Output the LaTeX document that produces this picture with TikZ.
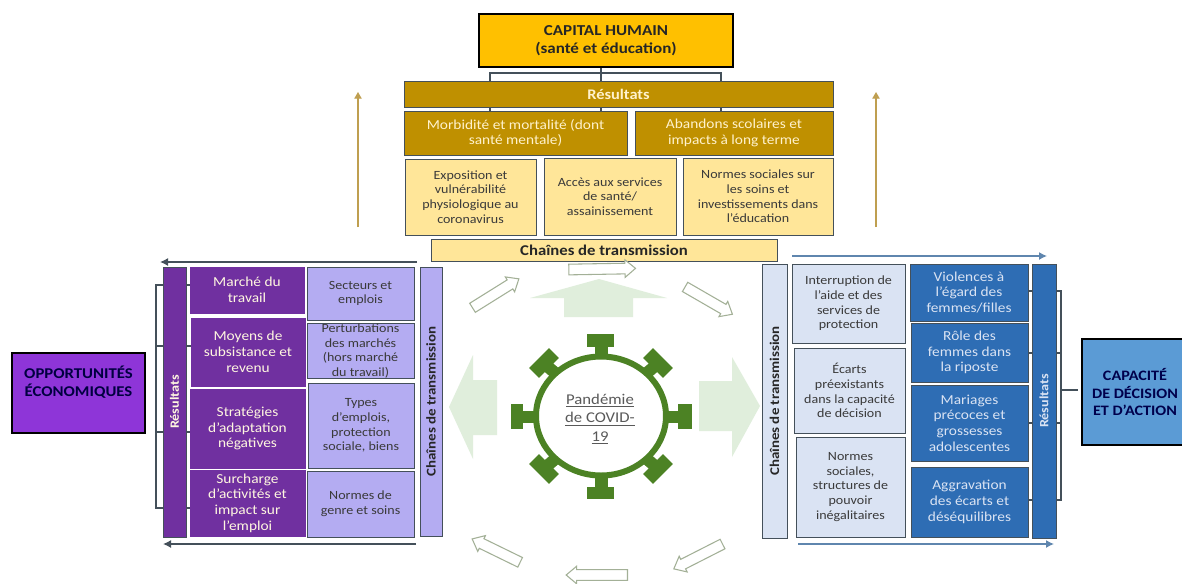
\documentclass[tikz,border=0pt]{standalone}
\usepackage{fontspec}
\setmainfont[FakeStretch=1.12]{Carlito}
\usetikzlibrary{arrows.meta,shapes.arrows}
\definecolor{capfill}{HTML}{FFC000}
\definecolor{gold}{HTML}{BF9000}
\definecolor{goldtxt}{HTML}{FFF2CC}
\definecolor{paleyellow}{HTML}{FFE699}
\definecolor{purpledark}{HTML}{7030A0}
\definecolor{lavender}{HTML}{B4ACF2}
\definecolor{oppfill}{HTML}{8E35D8}
\definecolor{bluedark}{HTML}{2E6DB4}
\definecolor{paleblue}{HTML}{DAE3F3}
\definecolor{capafill}{HTML}{5B9BD5}
\definecolor{virus}{HTML}{4C8224}
\definecolor{bigarrow}{HTML}{E0EEDC}
\definecolor{smallarrow}{HTML}{A3B097}
\definecolor{linegrey}{HTML}{44505A}
\definecolor{arrowgold}{HTML}{BF9F50}
\definecolor{arrowblue}{HTML}{5F86AE}
\definecolor{txtgrey}{HTML}{3A3A3A}
\tikzset{
  bxbase/.style={draw=#1,line width=0.65pt,inner sep=0pt,outer sep=0pt,align=center,anchor=center},
  bxbase/.default=linegrey,
  txtsmall/.style={font=\fontsize{9.4}{11}\selectfont,text=txtgrey},
  yellowbox/.style={bxbase,fill=paleyellow,txtsmall},
  goldbox/.style={bxbase,fill=gold,font=\fontsize{10.3}{11.8}\selectfont,text=goldtxt},
  purplebox/.style={bxbase=purpledark,line width=0.3pt,fill=purpledark,font=\fontsize{10.3}{11.8}\selectfont,text=goldtxt!60!white},
  lavbox/.style={bxbase,fill=lavender,txtsmall},
  bluebox/.style={bxbase,fill=bluedark,font=\fontsize{10.3}{11.8}\selectfont,text=paleblue},
  paleblbox/.style={bxbase,fill=paleblue,txtsmall},
  headbox/.style={bxbase=black,line width=2.2pt,font=\bfseries\fontsize{11.4}{14}\selectfont},
  vertbar/.style={bxbase,font=\bfseries\fontsize{10}{12}\selectfont},
  resvert/.style={bxbase,font=\bfseries\fontsize{9.5}{12}\selectfont},
  conn/.style={draw=linegrey,line width=0.8pt},
  smallblock/.style={single arrow,draw=smallarrow,fill=white,line width=0.8pt,inner sep=3.6pt,outer sep=0pt,
    single arrow head extend=2.6pt,single arrow tip angle=80},
  bigblock/.style={fill=bigarrow,draw=none},
  spike/.style={fill=virus,draw=none},
}
\newcommand{\bxn}[7][]{\node[#1,minimum width={(#5-#3)*0.75pt},minimum height={(#6-#4)*0.75pt}] (#2) at ({(#5+#3)/2},{(#6+#4)/2}) {#7};}
\newcommand{\vbar}[7][]{\node[#1,rotate=90,minimum width={(#6-#4)*0.75pt},minimum height={(#5-#3)*0.75pt}] (#2) at ({(#5+#3)/2},{(#6+#4)/2}) {#7};}
\begin{document}
\begin{tikzpicture}[x=0.75pt,y=-0.75pt]
\clip (0,0) rectangle (1182,583);
\fill[white] (0,0) rectangle (1182,583);

% ---- coordinates for connectors
\coordinate (capfoot) at (601,67);
\coordinate (tbar) at (601,73);
\coordinate (tA) at (490,81); \coordinate (tB) at (601,81); \coordinate (tC) at (721,81);
\coordinate (tA2) at (490,107); \coordinate (tB2) at (601,107); \coordinate (tC2) at (721,107);
\coordinate (tA3) at (490,111); \coordinate (tB3) at (601,111); \coordinate (tC3) at (721,111);
\coordinate (lspine) at (156,392);
\coordinate (l1) at (163,285); \coordinate (l2) at (163,346); \coordinate (l3) at (163,432); \coordinate (l4) at (163,508);
\coordinate (l1b) at (186,285); \coordinate (l2b) at (186,346); \coordinate (l3b) at (186,432); \coordinate (l4b) at (186,508);
\coordinate (l1c) at (191,285); \coordinate (l2c) at (192,346); \coordinate (l3c) at (191,432); \coordinate (l4c) at (191,508);
\coordinate (rspine) at (1061,390);
\coordinate (r1) at (1032,291); \coordinate (r2) at (1032,353); \coordinate (r3) at (1032,423); \coordinate (r4) at (1032,500);
\coordinate (r1b) at (1027,291); \coordinate (r2b) at (1027,353); \coordinate (r3b) at (1027,423); \coordinate (r4b) at (1027,500);
\coordinate (r1c) at (1056,291); \coordinate (r2c) at (1056,353); \coordinate (r3c) at (1056,423); \coordinate (r4c) at (1056,500);
\coordinate (upLa) at (358,227); \coordinate (upLb) at (358,92);
\coordinate (upRa) at (876,227); \coordinate (upRb) at (876,92);
\coordinate (ltopa) at (417,262); \coordinate (ltopb) at (160,262);
\coordinate (lbota) at (416,544); \coordinate (lbotb) at (163,544);
\coordinate (rtopa) at (792,256); \coordinate (rtopb) at (1047,256);
\coordinate (rbota) at (798,544); \coordinate (rbotb) at (1054,544);

% ---- connectors
\draw[conn] (capfoot) -- (tB);
\draw[conn] (tA) |- (tbar) -| (tC);
\draw[conn] (tA2) -- (tA3); \draw[conn] (tB2) -- (tB3); \draw[conn] (tC2) -- (tC3);
\draw[conn] (l1) -| (lspine); \draw[conn] (l2) -| (lspine); \draw[conn] (l3) -| (lspine); \draw[conn] (l4) -| (lspine);
\draw[conn] (l1b) -- (l1c); \draw[conn] (l2b) -- (l2c); \draw[conn] (l3b) -- (l3c); \draw[conn] (l4b) -- (l4c);
\draw[conn] (r1c) -| (rspine); \draw[conn] (r2c) -| (rspine); \draw[conn] (r3c) -| (rspine); \draw[conn] (r4c) -| (rspine);
\draw[conn] (r1) -- (r1b); \draw[conn] (r2) -- (r2b); \draw[conn] (r3) -- (r3b); \draw[conn] (r4) -- (r4b);
\draw[arrowgold,line width=0.9pt,-{Triangle[length=5pt,width=5.5pt]}] (upLa) -- (upLb);
\draw[arrowgold,line width=0.9pt,-{Triangle[length=5pt,width=5.5pt]}] (upRa) -- (upRb);
\draw[linegrey,line width=1pt,-{Latex[length=6pt,width=6pt]}] (ltopa) -- (ltopb);
\draw[linegrey,line width=1pt,-{Latex[length=6pt,width=6pt]}] (lbota) -- (lbotb);
\draw[arrowblue,line width=1pt,-{Latex[length=6pt,width=6pt]}] (rtopa) -- (rtopb);
\draw[arrowblue,line width=1pt,-{Latex[length=6pt,width=6pt]}] (rbota) -- (rbotb);

% ---- top block
\bxn[headbox,fill=capfill,text=black!85]{cap}{479}{14}{733}{67}{CAPITAL HUMAIN\\(santé et éducation)}
\bxn[goldbox,font=\bfseries\fontsize{11}{12}\selectfont]{resT}{404}{81}{833}{107}{Résultats}
\bxn[goldbox]{morb}{404}{111}{627}{155}{Morbidité et mortalité (dont\\santé mentale)}
\bxn[goldbox]{aban}{635}{111}{833}{155}{Abandons scolaires et\\impacts à long terme}
\bxn[yellowbox]{expo}{405}{159}{536}{235}{Exposition et\\vulnérabilité\\physiologique au\\coronavirus}
\bxn[yellowbox]{acces}{544}{158}{676}{235}{Accès aux services\\de santé/\\assainissement}
\bxn[yellowbox]{normT}{683}{158}{833}{235}{Normes sociales sur\\les soins et\\investissements dans\\l'éducation}
\bxn[yellowbox,font=\bfseries\fontsize{11.2}{12}\selectfont,text=black!85]{chT}{431}{239}{777}{261}{Chaînes de transmission}

% ---- left block
\bxn[headbox,fill=oppfill,text=black!75!blue,font=\bfseries\fontsize{11.2}{14}\selectfont]{opp}{12}{353}{145}{433}{OPPORTUNITÉS\\ÉCONOMIQUES\\[3.5pt]}
\vbar[resvert,fill=purpledark,text=goldtxt!60!white]{resL}{163}{267}{186}{537}{Résultats}
\bxn[purplebox]{marche}{190}{267}{304}{313}{Marché du\\travail}
\bxn[purplebox]{moyens}{191}{318}{305}{386}{Moyens de\\subsistance et\\revenu}
\bxn[purplebox]{strat}{190}{389}{305}{468}{Stratégies\\d'adaptation\\négatives}
\bxn[purplebox]{surch}{190}{470}{305}{536}{Surcharge\\d'activités et\\impact sur\\l'emploi}
\bxn[lavbox]{sect}{307}{267}{414}{320}{Secteurs et\\emplois}
\bxn[lavbox]{pert}{307}{324}{414}{378}{Perturbations\\des marchés\\(hors marché\\du travail)}
\bxn[lavbox]{types}{308}{383}{414}{468}{Types\\d'emplois,\\protection\\sociale, biens}
\bxn[lavbox]{normL}{307}{471}{414}{537}{Normes de\\genre et soins}
\vbar[vertbar,fill=lavender,text=black!85]{chL}{420}{267}{442}{536}{Chaînes de transmission}

% ---- right block
\vbar[vertbar,fill=paleblue,text=black!85]{chR}{762}{264}{787}{538}{Chaînes de transmission}
\bxn[paleblbox]{inter}{792}{264}{905}{343}{Interruption de\\l'aide et des\\services de\\protection}
\bxn[paleblbox]{ecarts}{794}{348}{905}{433}{Écarts\\préexistants\\dans la capacité\\de décision}
\bxn[paleblbox]{normR}{796}{437}{905}{537}{Normes\\sociales,\\structures de\\pouvoir\\inégalitaires}
\bxn[bluebox]{viol}{910}{264}{1028}{321}{Violences à\\l'égard des\\femmes/filles}
\bxn[bluebox]{role}{911}{323}{1028}{382}{Rôle des\\femmes dans\\la riposte}
\bxn[bluebox]{mar}{911}{385}{1028}{461}{Mariages\\précoces et\\grossesses\\adolescentes}
\bxn[bluebox]{aggr}{911}{467}{1028}{537}{Aggravation\\des écarts et\\déséquilibres}
\vbar[resvert,fill=bluedark,text=paleblue]{resR}{1032}{264}{1056}{538}{Résultats}
\coordinate (capaw) at (1078,390);
\draw[conn] (rspine) -- (capaw);
\bxn[headbox,fill=capafill,text=blue!30!black,font=\bfseries\fontsize{10.8}{13.2}\selectfont]{capa}{1082}{339}{1188}{445}{CAPACITÉ\\DE DÉCISION\\ET D'ACTION}

% ---- big pale arrows
\fill[bigblock] (599,279) -- (667,298) -- (633,298) -- (633,317) -- (564,317) -- (564,298) -- (530,298) -- cycle;
\fill[bigblock] (449,407) -- (473,355) -- (473,380) -- (497,380) -- (497,435) -- (473,435) -- (473,459) -- cycle;
\fill[bigblock] (760,406) -- (732,357) -- (732,381) -- (699,381) -- (699,431) -- (732,431) -- (732,457) -- cycle;

% ---- small outlined arrows
\node[smallblock,minimum height=50pt,rotate=1] (a1) at (599,269) {};
\node[smallblock,minimum height=41pt,rotate=-30] (a2) at (706,299) {};
\node[smallblock,minimum height=41pt,rotate=207] (a3) at (701,555) {};
\node[smallblock,minimum height=46pt,rotate=180] (a4) at (600,575) {};
\node[smallblock,minimum height=40pt,rotate=154] (a5) at (499,552) {};
\node[smallblock,minimum height=41pt,rotate=32] (a6) at (493,295) {};

% ---- virus
\fill[spike] (595,347) rectangle (608,362);
\fill[spike] (587,334) rectangle (614,347);
\fill[spike] (595,470) rectangle (608,487);
\fill[spike] (587,487) rectangle (614,499);
\fill[spike] (523,411) rectangle (540,423);
\fill[spike] (511,404) rectangle (523,429);
\fill[spike] (662,411) rectangle (678,423);
\fill[spike] (678,404) rectangle (692,429);
\foreach \sx/\sy/\r in {-1/-1/45,1/-1/-45,-1/1/-45,1/1/45}{
  \begin{scope}[shift={(601+57*\sx,416+53*\sy)},rotate=\r]
    \fill[spike] (-14,-7) rectangle (14,7);
  \end{scope}
  \draw[virus,line width=9pt] (601+40*\sx,416+38*\sy) -- (601+54*\sx,416+50*\sy);
}
\draw[virus,line width=4.5pt,fill=white] (601,416) ellipse [x radius=65,y radius=59.5];
\node[font=\fontsize{11.2}{13.8}\selectfont,text=black!65,align=center,inner sep=0pt] (covid) at (600,419) {\underline{Pandémie}\\\underline{de COVID-}\\\underline{19}};
\end{tikzpicture}
\end{document}
